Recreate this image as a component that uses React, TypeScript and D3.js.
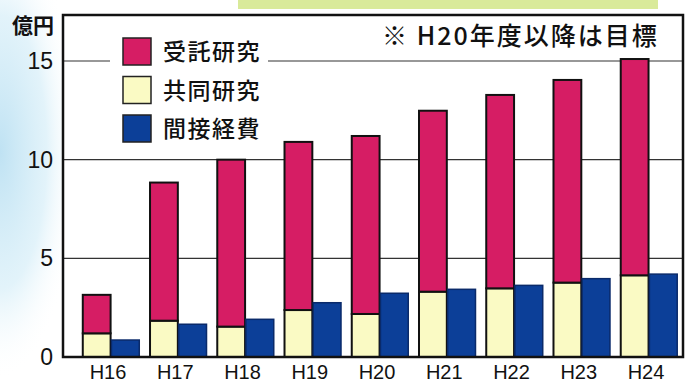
import React from "react";
import * as d3 from "d3";

// 年度
const years = ["H16", "H17", "H18", "H19", "H20", "H21", "H22", "H23", "H24"];
// 億円
const jutaku = [1.95, 7.0, 8.46, 8.52, 9.02, 9.17, 9.8, 10.27, 10.96];
const kyodo = [1.2, 1.84, 1.54, 2.38, 2.18, 3.31, 3.48, 3.77, 4.14];
const kansetsu = [0.86, 1.66, 1.91, 2.75, 3.23, 3.43, 3.63, 3.97, 4.2];
const yTicks = [0, 5, 10, 15];

const legendItems = [
  { label: "受託研究", color: "#d61d64" },
  { label: "共同研究", color: "#fafac4" },
  { label: "間接経費", color: "#0c3f98" },
];

const W = 691;
const H = 384;
const plot = { left: 63, right: 683, top: 15, bottom: 357 };
const numFont = "'Liberation Sans Narrow', 'Liberation Sans', Arial, sans-serif";
const jpFont = "'Noto Sans CJK JP', sans-serif";

export default function App() {
  const x = d3.scaleBand<string>()
    .domain(years)
    .range([77.4, 682.6])
    .paddingInner(0.16)
    .paddingOuter(0.08);

  const sub = d3.scaleBand<string>()
    .domain(["stack", "indirect"])
    .range([0, x.bandwidth()])
    .paddingInner(0.03);

  const y = d3.scaleLinear().domain([0, 15]).range([plot.bottom, 61]);

  const rows = years.map((yr, i) => ({ year: yr, kyodo: kyodo[i], jutaku: jutaku[i] }));
  const stacked = d3.stack<any>().keys(["kyodo", "jutaku"])(rows);
  const stackColor: Record<string, string> = { kyodo: "#fafac4", jutaku: "#d61d64" };

  return (
    <svg width={W} height={H} style={{ position: "absolute", left: 0, top: 0, background: "#fff" }}>
      <defs>
        <radialGradient id="bgBlue" cx="0" cy="0.4" r="0.6">
          <stop offset="0" stopColor="#bfe2f3" />
          <stop offset="0.6" stopColor="#d6eef8" stopOpacity="0.7" />
          <stop offset="1" stopColor="#ffffff" stopOpacity="0" />
        </radialGradient>
      </defs>
      {/* scan background */}
      <rect x={0} y={0} width={130} height={380} fill="url(#bgBlue)" />
      <rect x={238} y={0} width={420} height={9} fill="#d9ea9a" />

      {/* plot area */}
      <rect x={plot.left} y={plot.top} width={plot.right - plot.left} height={plot.bottom - plot.top} fill="#fff" />

      {/* grid */}
      {yTicks.filter((t) => t > 0).map((t) => (
        <line key={t} x1={plot.left} x2={plot.right} y1={y(t)} y2={y(t)} stroke="#333" strokeWidth={1.2} />
      ))}

      {/* bars */}
      {stacked.map((layer) =>
        layer.map((d, i) => (
          <rect
            key={layer.key + i}
            x={(x(years[i]) ?? 0) + (sub("stack") ?? 0)}
            y={y(d[1])}
            width={sub.bandwidth()}
            height={y(d[0]) - y(d[1])}
            fill={stackColor[layer.key]}
            stroke="#111"
            strokeWidth={2}
          />
        ))
      )}
      {kansetsu.map((v, i) => (
        <rect
          key={"k" + i}
          x={(x(years[i]) ?? 0) + (sub("indirect") ?? 0)}
          y={y(v)}
          width={sub.bandwidth()}
          height={y(0) - y(v)}
          fill="#0c3f98"
          stroke="#0a2a6a"
          strokeWidth={1.5}
        />
      ))}

      {/* legend */}
      <rect x={110} y={28} width={158} height={122} fill="#fff" />
      {legendItems.map((it, i) => (
        <g key={it.label} transform={`translate(123, ${38 + i * 38.5})`}>
          <rect x={0} y={0} width={28} height={27} fill={it.color} stroke="#222" strokeWidth={1.5} />
          <text x={40} y={22} fontFamily={jpFont} fontSize={23} fontWeight={500} letterSpacing={1.5} fill="#111">
            {it.label}
          </text>
        </g>
      ))}

      {/* note */}
      <text x={382} y={45} fontFamily={jpFont} fontSize={25} fontWeight={500} letterSpacing={2} fill="#111">
        ※ H20年度以降は目標
      </text>

      {/* frame */}
      <rect x={plot.left} y={plot.top} width={plot.right - plot.left} height={plot.bottom - plot.top}
        fill="none" stroke="#111" strokeWidth={2.5} />

      {/* y ticks */}
      {yTicks.map((t) => (
        <text key={t} x={53} y={y(t) + 8} textAnchor="end" fontFamily={numFont} fontSize={23} fill="#111">
          {t}
        </text>
      ))}
      <text x={12} y={33} fontFamily={jpFont} fontSize={21} fontWeight="bold" fill="#111">億円</text>

      {/* x labels */}
      {years.map((yr) => (
        <text key={yr} x={(x(yr) ?? 0) + x.bandwidth() / 2 - 3} y={379} textAnchor="middle"
          fontFamily={numFont} fontSize={20} fill="#111">
          {yr}
        </text>
      ))}
    </svg>
  );
}
